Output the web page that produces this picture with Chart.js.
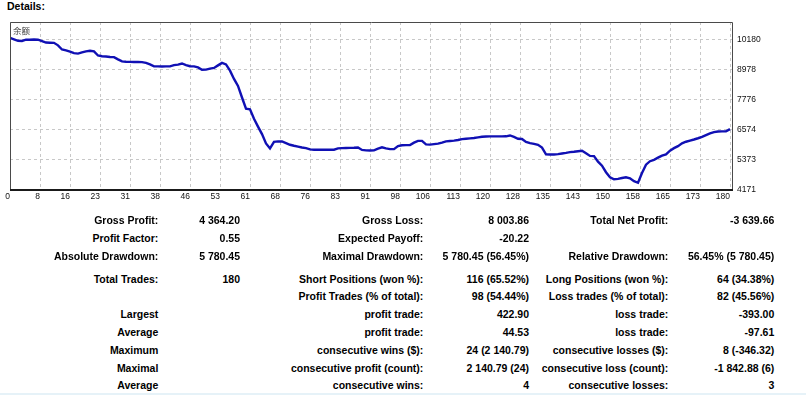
<!DOCTYPE html>
<html><head><meta charset="utf-8">
<script src="https://cdn.jsdelivr.net/npm/chart.js@4/dist/chart.umd.min.js"></script>
<style>
html,body{margin:0;padding:0;background:#fff;width:806px;height:395px;overflow:hidden;}
#wrap{position:absolute;left:0;top:0;width:806px;height:215px;}
.t{position:absolute;font:bold 10.5px 'Liberation Sans',Arial,sans-serif;color:#000;white-space:nowrap;line-height:12px;}
#lbl{position:absolute;left:13px;top:26px;font:8.5px 'Noto Sans CJK SC',sans-serif;line-height:9px;color:#444;}
#strip{position:absolute;left:0;top:393px;width:806px;height:2px;background:#e6f2f8;}
</style></head><body>
<div class="t" style="left:7px;top:0px">Details:</div>
<div id="wrap"><canvas id="c"></canvas></div>
<div id="lbl">余额</div>
<div id="strip"></div>
<script>
// ---- data ----
const seriesName = '余额';
const equity = [
 10240,10180,10120,10115,10165,10165,10170,10165,10110,10050,
 10045,10040,9940,9775,9740,9690,9630,9610,9660,9700,
 9725,9700,9535,9505,9495,9475,9470,9380,9300,9285,
 9280,9275,9275,9272,9240,9180,9100,9100,9098,9100,
 9100,9150,9170,9215,9150,9105,9100,9060,8965,8970,
 9010,9040,9140,9240,9180,8930,8600,8320,7860,7410,
 7385,7010,6700,6400,6030,5830,6090,6110,6105,6040,
 5975,5935,5900,5865,5840,5790,5775,5775,5775,5775,
 5775,5778,5830,5842,5845,5850,5855,5868,5770,5750,
 5748,5750,5820,5875,5830,5800,5800,5920,5955,5962,
 5965,6060,6130,6130,5990,5980,6000,6020,6060,6110,
 6125,6140,6165,6200,6215,6230,6245,6270,6295,6305,
 6310,6310,6310,6310,6312,6345,6290,6215,6205,6090,
 6040,6010,5975,5860,5595,5588,5588,5600,5625,5650,
 5682,5695,5718,5735,5640,5530,5522,5300,5140,4880,
 4680,4600,4615,4650,4680,4640,4520,4460,4850,5180,
 5320,5375,5460,5540,5590,5740,5840,5920,6030,6095,
 6140,6185,6235,6290,6362,6430,6480,6505,6510,6510,
 6600
];
const xTickLabels = ['0','8','16','23','31','38','46','53','61','68','76','83','91','98','106','113','120','128','135','143','150','158','165','173','180'];
const yTickLabels = ['4171','5373','6574','7776','8978','10180'];
const yTickValues = [4171,5372.8,6574.6,7776.4,8978.2,10180];
const xTickStep = 7.5;

const tableRows = [
 ['Gross Profit:','4 364.20','Gross Loss:','8 003.86','Total Net Profit:','-3 639.66'],
 ['Profit Factor:','0.55','Expected Payoff:','-20.22','',''],
 ['Absolute Drawdown:','5 780.45','Maximal Drawdown:','5 780.45 (56.45%)','Relative Drawdown:','56.45% (5 780.45)'],
 ['Total Trades:','180','Short Positions (won %):','116 (65.52%)','Long Positions (won %):','64 (34.38%)'],
 ['','','Profit Trades (% of total):','98 (54.44%)','Loss trades (% of total):','82 (45.56%)'],
 ['Largest','','profit trade:','422.90','loss trade:','-393.00'],
 ['Average','','profit trade:','44.53','loss trade:','-97.61'],
 ['Maximum','','consecutive wins ($):','24 (2 140.79)','consecutive losses ($):','8 (-346.32)'],
 ['Maximal','','consecutive profit (count):','2 140.79 (24)','consecutive loss (count):','-1 842.88 (6)'],
 ['Average','','consecutive wins:','4','consecutive losses:','3']
];

// ---- layout ----
const colRight = [158.3, 240, 423.3, 529, 668.3, 774.3];
const rowBase = [223.3, 241.7, 259.3, 283, 300, 318, 336, 353.3, 371.3, 389];
tableRows.forEach((r, ri) => r.forEach((txt, ci) => {
  if (!txt) return;
  const d = document.createElement('div');
  d.className = 't';
  d.textContent = txt;
  d.style.right = (806 - colRight[ci]) + 'px';
  d.style.top = (rowBase[ri] - 9.6) + 'px';
  document.body.appendChild(d);
}));

Chart.defaults.font.family = "'Liberation Sans', Arial, sans-serif";

const frame = {
  id: 'frame',
  afterDraw(chart) {
    const {ctx, chartArea: a} = chart;
    ctx.save();
    ctx.strokeStyle = '#4a4a4a';
    ctx.lineWidth = 1;
    ctx.beginPath();
    ctx.moveTo(a.left + 0.5, a.bottom);
    ctx.lineTo(a.left + 0.5, a.top + 0.5);
    ctx.lineTo(a.right - 0.5, a.top + 0.5);
    ctx.lineTo(a.right - 0.5, a.bottom);
    ctx.stroke();
    ctx.strokeStyle = '#1a1a1a';
    ctx.lineWidth = 2;
    ctx.beginPath();
    ctx.moveTo(a.left, a.bottom);
    ctx.lineTo(a.right, a.bottom);
    ctx.stroke();
    ctx.restore();
  }
};

new Chart(document.getElementById('c'), {
  type: 'line',
  data: {
    datasets: [{
      label: seriesName,
      data: equity.map((v, i) => ({x: i, y: v})),
      borderColor: '#1010b4',
      borderWidth: 2.4,
      pointRadius: 0,
      tension: 0,
      fill: false
    }]
  },
  options: {
    responsive: true,
    maintainAspectRatio: false,
    animation: false,
    layout: {padding: {left: 10, top: 22, right: 0, bottom: 0}},
    plugins: {legend: {display: false}, tooltip: {enabled: false}},
    scales: {
      x: {
        type: 'linear', min: 0, max: 180.75,
        afterBuildTicks: s => { s.ticks = xTickLabels.map((l, i) => ({value: i * xTickStep})); },
        afterFit: s => { s.height = 25; },
        ticks: {autoSkip: false, maxRotation: 0, align: 'end', padding: 2, color: '#111', font: {size: 8.5},
          callback: (v, i) => xTickLabels[i]},
        grid: {color: '#c8c8c8', drawTicks: false, lineWidth: 1},
        border: {display: false, dash: [3, 3]}
      },
      y: {
        position: 'right', min: 4171, max: 10870,
        afterBuildTicks: s => { s.ticks = yTickValues.map(v => ({value: v})); },
        afterFit: s => { s.width = 73; },
        ticks: {padding: 4, color: '#111', font: {size: 8.5}, callback: (v, i) => yTickLabels[i]},
        grid: {color: '#c8c8c8', drawTicks: false, lineWidth: 1},
        border: {display: false, dash: [3, 3]}
      }
    }
  },
  plugins: [frame]
});
</script>
</body></html>
